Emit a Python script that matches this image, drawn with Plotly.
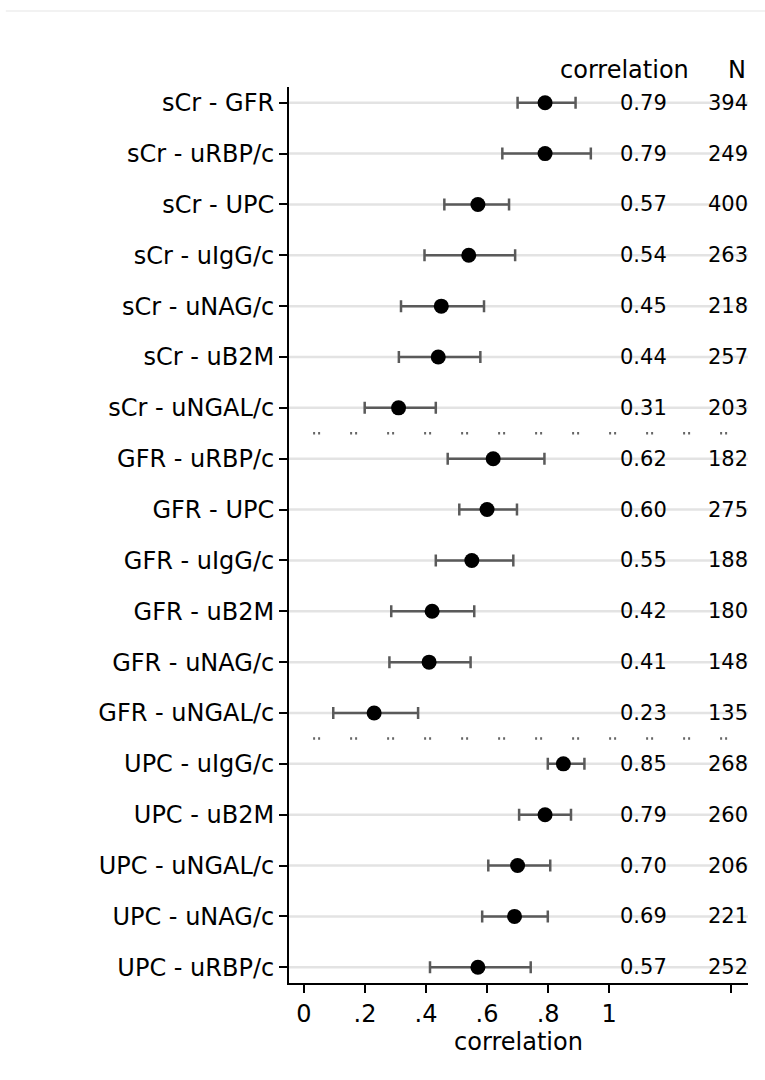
import plotly.graph_objects as go

# Pairwise correlations with 95% confidence limits
pairs = [
    "sCr - GFR", "sCr - uRBP/c", "sCr - UPC", "sCr - uIgG/c", "sCr - uNAG/c",
    "sCr - uB2M", "sCr - uNGAL/c",
    "GFR - uRBP/c", "GFR - UPC", "GFR - uIgG/c", "GFR - uB2M", "GFR - uNAG/c",
    "GFR - uNGAL/c",
    "UPC - uIgG/c", "UPC - uB2M", "UPC - uNGAL/c", "UPC - uNAG/c", "UPC - uRBP/c",
]
corr = [0.79, 0.79, 0.57, 0.54, 0.45, 0.44, 0.31,
        0.62, 0.60, 0.55, 0.42, 0.41, 0.23,
        0.85, 0.79, 0.70, 0.69, 0.57]
ci_low = [0.70, 0.65, 0.46, 0.395, 0.318, 0.311, 0.199,
          0.471, 0.509, 0.432, 0.286, 0.280, 0.096,
          0.799, 0.705, 0.604, 0.584, 0.413]
ci_high = [0.89, 0.94, 0.672, 0.692, 0.590, 0.578, 0.432,
           0.788, 0.698, 0.686, 0.558, 0.546, 0.374,
           0.919, 0.875, 0.807, 0.799, 0.743]
n_obs = [394, 249, 400, 263, 218, 257, 203,
         182, 275, 188, 180, 148, 135,
         268, 260, 206, 221, 252]
group_breaks = [6.5, 12.5]

x_ticks = [0, 0.2, 0.4, 0.6, 0.8, 1.0, 1.4]
x_tick_text = ["0", ".2", ".4", ".6", ".8", "1", ""]

FONT = "DejaVu Sans"
rows = list(range(len(pairs)))
x_lo, x_hi = -0.049, 1.455
y_top, y_bottom = -0.31, 17.31

# column positions in paper units (plot area spans x 0..1)
corr_col_x = 0.772
n_col_x = 1.004
header_y = 1.019
header_corr_x = 0.730
header_n_x = 0.976


def row_to_paper(r):
    return (y_bottom - r) / (y_bottom - y_top)


fig = go.Figure()

# light reference line along each row
gx, gy = [], []
for r in rows:
    gx += [x_lo, x_hi, None]
    gy += [r, r, None]
fig.add_trace(go.Scatter(x=gx, y=gy, mode="lines",
                         line=dict(color="#e3e3e3", width=2.5),
                         hoverinfo="skip", showlegend=False))

# dotted separators between groups
for b in group_breaks:
    fig.add_trace(go.Scatter(x=[0.03, 1.44], y=[b, b], mode="lines",
                             line=dict(color="#666666", width=2.5,
                                       dash="2px,3px,2px,30px"),
                             hoverinfo="skip", showlegend=False))

# point estimates with confidence intervals
fig.add_trace(go.Scatter(
    x=corr, y=rows, mode="markers",
    marker=dict(color="black", size=15),
    error_x=dict(type="data", symmetric=False,
                 array=[h - c for h, c in zip(ci_high, corr)],
                 arrayminus=[c - l for c, l in zip(corr, ci_low)],
                 color="#5a5a5a", thickness=2.5, width=6),
    showlegend=False,
))

annotations = []
for r, c, n in zip(rows, corr, n_obs):
    yp = row_to_paper(r)
    annotations.append(dict(x=corr_col_x, y=yp, xref="paper", yref="paper",
                            text=f"{c:.2f}", showarrow=False,
                            font=dict(size=21),
                            xanchor="center", yanchor="middle"))
    annotations.append(dict(x=n_col_x, y=yp, xref="paper", yref="paper",
                            text=str(n), showarrow=False,
                            font=dict(size=21),
                            xanchor="right", yanchor="middle"))
annotations.append(dict(x=header_corr_x, y=header_y, xref="paper", yref="paper",
                        text="correlation", showarrow=False,
                        xanchor="center", yanchor="middle"))
annotations.append(dict(x=header_n_x, y=header_y, xref="paper", yref="paper",
                        text="N", showarrow=False,
                        xanchor="center", yanchor="middle"))

fig.update_layout(
    width=765, height=1080,
    margin=dict(l=289, r=17, t=87, b=97),
    paper_bgcolor="white", plot_bgcolor="white",
    font=dict(family=FONT, size=24, color="black"),
    annotations=annotations,
    shapes=[dict(type="line", xref="paper", yref="paper",
                 x0=-0.617, x1=1.04, y0=1.0848, y1=1.0848,
                 line=dict(color="#eeeeee", width=1.5))],
    xaxis=dict(range=[x_lo, x_hi], tickvals=x_ticks, ticktext=x_tick_text,
               showline=True, linecolor="black", linewidth=2,
               ticks="outside", ticklen=8, tickwidth=2, tickcolor="black",
               showgrid=False, zeroline=False,
               title=dict(text="correlation", standoff=4,
                          font=dict(size=24))),
    yaxis=dict(range=[y_bottom, y_top], tickvals=rows, ticktext=pairs,
               showline=True, linecolor="black", linewidth=2,
               ticks="outside", ticklen=8, tickwidth=2, tickcolor="black",
               showgrid=False, zeroline=False),
)

fig.write_html("out.html")
